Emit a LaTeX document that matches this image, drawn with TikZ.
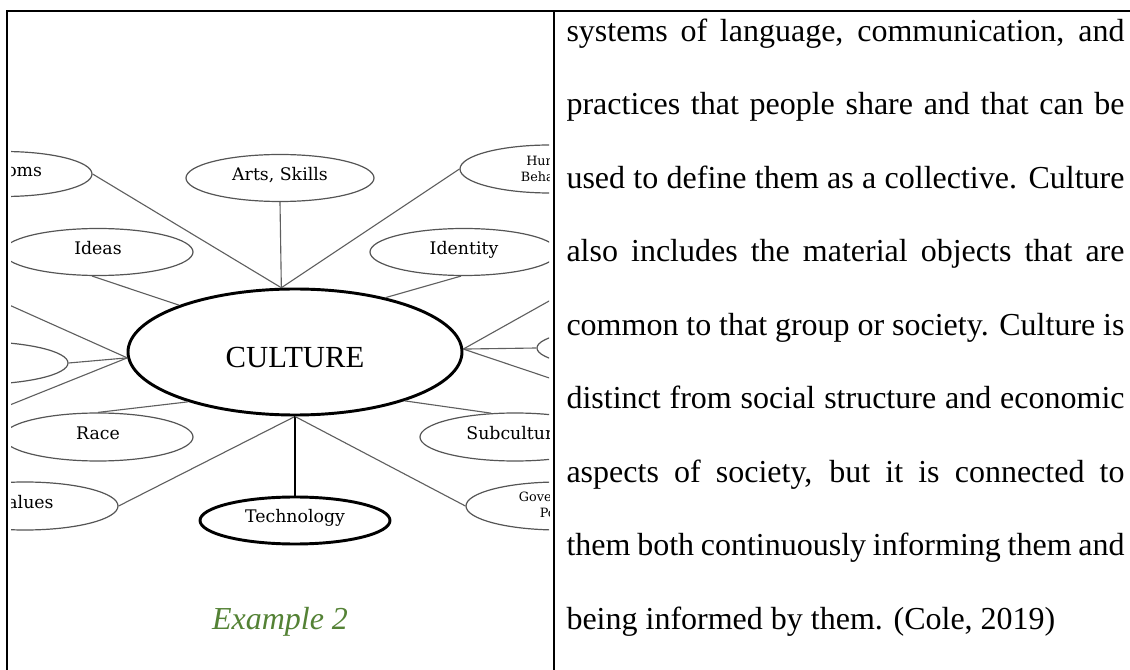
\documentclass[tikz,border=0pt]{standalone}
\usepackage{fontspec}
\setmainfont{Liberation Serif}
\newfontfamily\labelfont{DejaVu Serif}
\usetikzlibrary{shapes.geometric}
\newlength\upx
\setlength\upx{0.375pt}
\definecolor{spokegray}{RGB}{95,95,95}
\definecolor{rimgray}{RGB}{85,85,85}
\definecolor{exgreen}{RGB}{84,130,53}

\begin{document}
\begin{tikzpicture}[x=0.375pt, y=-0.375pt,
  leaf/.style={ellipse, draw=rimgray, line width=0.45pt, inner sep=0pt,
    font=\labelfont\fontsize{6.5}{7.5}\selectfont,
    text height=12.7\upx, text depth=8\upx},
  smallleaf/.style={ellipse, draw=rimgray, line width=0.45pt, inner sep=0pt,
    align=center, font=\labelfont\fontsize{4.8}{6}\selectfont},
  hubnode/.style={ellipse, draw=black, line width=1.1pt, inner sep=0pt},
  spoke/.style={draw=spokegray, line width=0.42pt},
  heavyspoke/.style={draw=black, line width=1.1pt},
  frame/.style={draw=black, line width=0.75pt, line join=miter},
  paraline/.style={anchor=mid west, inner sep=0pt, font=\fontsize{12}{14}\selectfont}]
\useasboundingbox (0,0) rectangle (1130,670);

% concept map, cut off at the sides of its cell
\begin{scope}
  \clip (11,0) rectangle (549,670);

  \node[leaf, minimum width=176\upx, minimum height=45\upx] (customs) at (4,174) {Customs};
  \node[leaf, minimum width=188\upx, minimum height=47\upx] (arts) at (280,178) {Arts, Skills};
  \node[smallleaf, minimum width=180\upx, minimum height=48\upx] (human) at (550,169) {Human\\Behavior};
  \node[leaf, minimum width=190\upx, minimum height=47\upx] (ideas) at (98,252) {Ideas};
  \node[leaf, minimum width=188\upx, minimum height=47\upx] (identity) at (464,252) {Identity};

  \node[hubnode, minimum width=334\upx, minimum height=126\upx,
        font=\fontsize{11.5}{13}\selectfont, text height=30\upx, text depth=0pt] (culture) at (295,352) {CULTURE};

  \node[leaf, minimum width=188\upx, minimum height=43\upx] (midleft) at (-26,363) {};
  \node[leaf, minimum width=188\upx, minimum height=41\upx] (midright) at (631,348) {};
  \node[leaf, minimum width=190\upx, minimum height=48\upx] (race) at (98,437) {Race};
  \node[leaf, minimum width=190\upx, minimum height=48\upx] (subculture) at (515,437) {Subculture};
  \node[leaf, minimum width=186\upx, minimum height=48\upx] (values) at (25,506) {Values};
  \node[smallleaf, minimum width=186\upx, minimum height=48\upx] (gov) at (559,506) {Government\\Policy};
  \node[hubnode, minimum width=190\upx, minimum height=47\upx,
        font=\labelfont\fontsize{6.5}{7.5}\selectfont, text height=12.7\upx, text depth=8\upx] (technology) at (295,520.5) {Technology};

  % loose ends of spokes whose ellipses lie outside the cell
  \coordinate (offUL) at (-40,283);
  \coordinate (offLL) at (-40,425);
  \coordinate (offUR) at (600,272.5);
  \coordinate (offLR) at (600,395);

  \draw[spoke] (customs.east) -- (culture.102);
  \draw[spoke] (arts.south) -- (culture.102);
  \draw[spoke] (human.west) -- (culture.102);
  \draw[spoke] (ideas.256) -- (culture.158);
  \draw[spoke] (identity.263) -- (culture.31);
  \draw[spoke] (offUL) -- (culture.182);
  \draw[spoke] (midleft.east) -- (culture.182);
  \draw[spoke] (offLL) -- (culture.182);
  \draw[spoke] (race.north) -- (culture.205);
  \draw[spoke] (subculture.135) -- (culture.336);
  \draw[spoke] (values.east) -- (culture.270);
  \draw[heavyspoke] (technology.north) -- (culture.270);
  \draw[spoke] (gov.west) -- (culture.270);
  \draw[spoke] (culture.1) -- (offUR);
  \draw[spoke] (culture.1) -- (midright.west);
  \draw[spoke] (culture.1) -- (offLR);
\end{scope}

\node[font=\fontsize{12}{14}\selectfont\itshape, text=exgreen, inner sep=0pt] (caption) at (280,622) {Example 2};

% table rules
\draw[frame] (7,670) -- (7,11) -- (1130,11);
\draw[frame] (554,11) -- (554,670);

% right-hand cell, double-spaced justified text
\node[paraline] (l1) at (566,35)    {\makebox[558\upx][s]{systems of language, communication, and}};
\node[paraline] (l2) at (566,108.5) {\makebox[558\upx][s]{practices that people share and that can be}};
\node[paraline] (l3) at (566,182)   {\makebox[558\upx][s]{used to define them as a collective. Culture}};
\node[paraline] (l4) at (566,255.5) {\makebox[558\upx][s]{also includes the material objects that are}};
\node[paraline] (l5) at (566,329)   {\makebox[558\upx][s]{common to that group or society. Culture is}};
\node[paraline] (l6) at (566,402.5) {\makebox[558\upx][s]{distinct from social structure and economic}};
\node[paraline] (l7) at (566,476)   {\makebox[558\upx][s]{aspects of society, but it is connected to}};
\node[paraline] (l8) at (566,549.5) {\makebox[558\upx][s]{them both continuously informing them and}};
\node[paraline] (l9) at (566,623)   {being informed by them. (Cole, 2019)};
\end{tikzpicture}
\end{document}
